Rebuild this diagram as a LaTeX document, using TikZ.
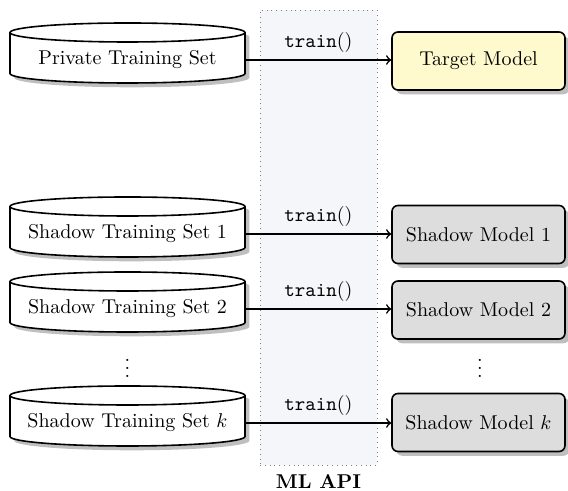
\documentclass[tikz,border=0pt]{standalone}
\usetikzlibrary{shadows,positioning}
\definecolor{apifill}{RGB}{245,246,250}
\definecolor{targetfill}{RGB}{255,250,205}
\definecolor{shadowfill}{RGB}{221,221,221}
\tikzset{
  cylbody/.style={draw, thick, fill=white, drop shadow},
  dbnode/.style={rectangle, minimum width=117.5pt, inner sep=0pt},
  modelbox/.style={rectangle, rounded corners=3pt, draw, thick, drop shadow,
    minimum width=86.5pt, minimum height=29pt},
  trainarrow/.style={->, thick},
  apilabel/.style={above=0pt, midway},
  dotsnode/.style={inner sep=0pt},
}
\newcommand{\dbcyl}[4]{%
  \coordinate (#1c) at (#2,#3);
  \path[cylbody] ([shift={(-58.75pt,-6.75pt)}]#1c) -- ([shift={(-58.75pt,13.75pt)}]#1c)
     arc[start angle=180, end angle=0, x radius=58.75pt, y radius=4.75pt]
     -- ([shift={(58.75pt,-6.75pt)}]#1c)
     arc[start angle=0, end angle=-180, x radius=58.75pt, y radius=4.75pt] -- cycle;
  \draw[thick] ([shift={(-58.75pt,13.75pt)}]#1c)
     arc[start angle=180, end angle=360, x radius=58.75pt, y radius=4.75pt];
  \node[dbnode] (#1) at (#1c) {#4};
}
\begin{document}
\begin{tikzpicture}[x=0.5pt,y=0.5pt]
\useasboundingbox (0,0) rectangle (568,491);
\node[draw=black!50, dotted, fill=apifill, minimum width=58.5pt, minimum height=227.5pt, inner sep=0pt] (api) at (318.5,253.5) {};
\node[font=\bfseries, below=1pt of api] (apiname) {ML API};

\dbcyl{priv}{127.5}{431}{Private Training Set}
\dbcyl{s1}{127.5}{257}{Shadow Training Set 1}
\dbcyl{s2}{127.5}{182}{Shadow Training Set 2}
\dbcyl{sk}{127.5}{68}{Shadow Training Set $k$}
\node[dotsnode] (ldots) at (127.5,129) {$\vdots$};

\node[modelbox, fill=targetfill] (tm) at (478.5,430) {Target Model};
\node[modelbox, fill=shadowfill] (m1) at (478.5,256.5) {Shadow Model 1};
\node[modelbox, fill=shadowfill] (m2) at (478.5,181) {Shadow Model 2};
\node[modelbox, fill=shadowfill] (mk) at (478.5,68.5) {Shadow Model $k$};
\node[dotsnode] (rdots) at (480,129) {$\vdots$};

\draw[trainarrow] (priv.east) -- (priv.east -| tm.west) node[apilabel] {\texttt{train}()};
\draw[trainarrow] (s1.east) -- (s1.east -| m1.west) node[apilabel] {\texttt{train}()};
\draw[trainarrow] (s2.east) -- (s2.east -| m2.west) node[apilabel] {\texttt{train}()};
\draw[trainarrow] (sk.east) -- (sk.east -| mk.west) node[apilabel] {\texttt{train}()};
\end{tikzpicture}
\end{document}
